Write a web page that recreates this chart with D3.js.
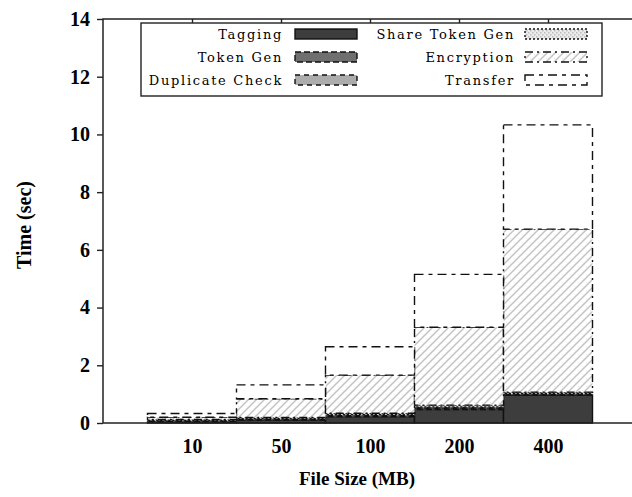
<!DOCTYPE html>
<html>
<head>
<meta charset="utf-8">
<script src="https://cdn.jsdelivr.net/npm/d3@7"></script>
<style>
  body { margin: 0; background: #fff; }
  svg { display: block; }
  .tick text { font-family: "Liberation Serif", serif; font-weight: bold; font-size: 20px; }
</style>
</head>
<body>
<svg id="chart" width="632" height="497"></svg>
<script>
// file sizes on the x axis
const categories = ["10", "50", "100", "200", "400"];
const seriesNames = ["Tagging", "Token Gen", "Duplicate Check", "Share Token Gen", "Encryption", "Transfer"];

// time per step (sec)
const tagging        = [0.04, 0.10, 0.22, 0.47, 0.97];
const tokenGen       = [0.03, 0.03, 0.04, 0.05, 0.03];
const duplicateCheck = [0.02, 0.02, 0.03, 0.04, 0.02];
const shareTokenGen  = [0.03, 0.04, 0.05, 0.06, 0.05];
const encryption     = [0.08, 0.65, 1.32, 2.70, 5.65];
const transfer       = [0.13, 0.48, 0.98, 1.83, 3.61];

const yTicks = [0, 2, 4, 6, 8, 10, 12, 14];

const table = categories.map((c, i) => ({
  cat: c,
  "Tagging": tagging[i],
  "Token Gen": tokenGen[i],
  "Duplicate Check": duplicateCheck[i],
  "Share Token Gen": shareTokenGen[i],
  "Encryption": encryption[i],
  "Transfer": transfer[i]
}));

const svg = d3.select("#chart");
const plotLeft = 103, plotTop = 19, plotBottom = 423, plotRight = 637;

const x = d3.scaleLinear().domain([0, categories.length + 1]).range([plotLeft, plotRight]);
const y = d3.scaleLinear().domain([0, 14]).range([plotBottom, plotTop]);
const barW = x(1) - x(0);

// fill patterns
const defs = svg.append("defs");
const dots = defs.append("pattern").attr("id", "dots")
  .attr("patternUnits", "userSpaceOnUse").attr("width", 4).attr("height", 4);
dots.append("rect").attr("width", 4).attr("height", 4).attr("fill", "#ececec");
dots.append("rect").attr("x", 0).attr("y", 0).attr("width", 1.5).attr("height", 1.5).attr("fill", "#bdbdbd");
dots.append("rect").attr("x", 2).attr("y", 2).attr("width", 1.5).attr("height", 1.5).attr("fill", "#bdbdbd");

const hatch = defs.append("pattern").attr("id", "hatch")
  .attr("patternUnits", "userSpaceOnUse").attr("width", 8).attr("height", 8);
hatch.append("rect").attr("width", 8).attr("height", 8).attr("fill", "#fff");
hatch.append("path").attr("d", "M0,8 L8,0 M-2,2 L2,-2 M6,10 L10,6")
  .attr("stroke", "#c4c4c4").attr("stroke-width", 1.5);
hatch.append("path").attr("d", "M0,0 L8,8")
  .attr("stroke", "#dadada").attr("stroke-width", 1).attr("stroke-dasharray", "1,2");

const styles = {
  "Tagging":         { fill: "#3d3d3d", dash: null },
  "Token Gen":       { fill: "#6f6f6f", dash: "6,3" },
  "Duplicate Check": { fill: "#acacac", dash: "5,4" },
  "Share Token Gen": { fill: "url(#dots)", dash: "2,2" },
  "Encryption":      { fill: "url(#hatch)", dash: "8,4,2,4" },
  "Transfer":        { fill: "#ffffff", dash: "9,5,4,5" }
};

const stacked = d3.stack().keys(seriesNames)(table);

const layers = svg.append("g").selectAll("g")
  .data(stacked).join("g");

layers.selectAll("rect")
  .data(d => d.map(v => ({ v, key: d.key })))
  .join("rect")
  .attr("x", (d, i) => x(i + 1) - barW / 2)
  .attr("width", barW)
  .attr("y", d => y(d.v[1]))
  .attr("height", d => y(d.v[0]) - y(d.v[1]))
  .attr("fill", d => styles[d.key].fill)
  .attr("stroke", "#111")
  .attr("stroke-width", 1.4)
  .attr("stroke-dasharray", d => styles[d.key].dash);

// axes
const yAxis = svg.append("g")
  .attr("transform", `translate(${plotLeft},0)`)
  .call(d3.axisLeft(y).tickValues(yTicks).tickSize(6).tickPadding(7));

const xAxis = svg.append("g")
  .attr("transform", `translate(0,${plotBottom})`)
  .call(d3.axisBottom(x).tickValues(d3.range(1, categories.length + 1))
    .tickFormat(i => categories[i - 1]).tickSize(0).tickPadding(16));

const xTop = svg.append("g")
  .attr("transform", `translate(0,${plotTop})`)
  .call(d3.axisBottom(x).tickValues(d3.range(1, categories.length + 1))
    .tickFormat("").tickSize(5));

[yAxis, xAxis, xTop].forEach(a => {
  a.select(".domain").remove();
  a.selectAll("line").attr("stroke", "#222").attr("stroke-width", 1.4);
  a.selectAll("text").attr("fill", "#000");
});

// frame (right side falls outside the picture)
svg.append("path")
  .attr("d", `M${plotRight},${plotTop} L${plotLeft},${plotTop} L${plotLeft},${plotBottom} L${plotRight},${plotBottom}`)
  .attr("fill", "none").attr("stroke", "#222").attr("stroke-width", 1.5);

// axis titles
svg.append("text")
  .attr("x", 357).attr("y", 485)
  .attr("text-anchor", "middle")
  .style("font-family", "Liberation Serif, serif").style("font-weight", "bold").style("font-size", "19px")
  .text("File Size (MB)");

svg.append("text")
  .attr("transform", "translate(31,225) rotate(-90)")
  .attr("text-anchor", "middle")
  .style("font-family", "Liberation Serif, serif").style("font-weight", "bold").style("font-size", "20px")
  .text("Time (sec)");

// legend
const legend = svg.append("g");
legend.append("rect")
  .attr("x", 141).attr("y", 23).attr("width", 461).attr("height", 73)
  .attr("fill", "#fff").attr("stroke", "#222").attr("stroke-width", 1.4);

const rowY = [34, 57, 80];
seriesNames.forEach((name, i) => {
  const col = Math.floor(i / 3), row = i % 3;
  const textEnd = col === 0 ? 283 : 515;
  const sx = col === 0 ? 295 : 525;
  legend.append("text")
    .attr("x", textEnd).attr("y", rowY[row] + 5)
    .attr("text-anchor", "end")
    .style("font-family", "DejaVu Serif, serif").style("font-size", "13px")
    .style("letter-spacing", "1.7px")
    .text(name);
  legend.append("rect")
    .attr("x", sx).attr("y", rowY[row] - 5).attr("width", 62).attr("height", 10)
    .attr("fill", styles[name].fill)
    .attr("stroke", "#111").attr("stroke-width", 1.4)
    .attr("stroke-dasharray", styles[name].dash);
});
</script>
</body>
</html>
